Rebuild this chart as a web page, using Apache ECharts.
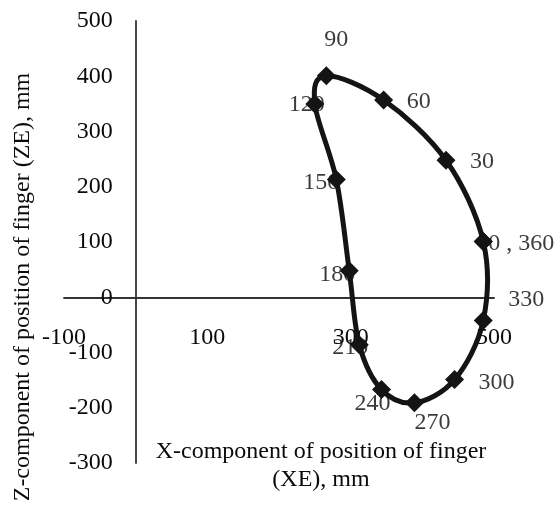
<!DOCTYPE html>
<html>
<head>
<meta charset="utf-8">
<style>
  html, body { margin: 0; padding: 0; background: #fff; }
  #chart { width: 559px; height: 512px; }
</style>
<script src="https://cdn.jsdelivr.net/npm/echarts@6/dist/echarts.min.js"></script>
</head>
<body>
<div id="chart"></div>
<script>
// Crank angle (degrees) at each measured finger position
const angles = [0, 30, 60, 90, 120, 150, 180, 210, 240, 270, 300, 330, 360];
// X-component of finger position (XE), mm
const xe = [485, 433, 346, 266, 250, 280, 298, 312, 343, 389, 445, 485, 485];
// Z-component of finger position (ZE), mm
const ze = [101, 248, 357, 401, 350, 213, 48, -86, -167, -191, -149, -42, 101];
// Text shown next to each point
const pointLabels = ['0 , 360', '30', '60', '90', '120', '150', '180', '210', '240', '270', '300', '330', ''];

// Tick labels shown on the axes
const xTickLabels = [-100, 100, 300, 500];
const yTickLabels = [-300, -200, -100, 0, 100, 200, 300, 400, 500];

// Where each angle label sits relative to its marker (px)
const labelOffsets = [
  [38, 2], [36, 1], [35, 2], [10, -36], [-8, 1], [-15, 3], [-12, 4],
  [-9, 3], [-9, 14], [18, 20], [42, 3], [43, -21], [0, 0]
];

const FONT = 'Liberation Serif';
const INK = '#141414';
const TEXT = '#0a0a0a';
const FS = 24;

// plot area and axis ranges
const GRID = { left: 64, right: 65, top: 21, bottom: 49 };
const X_MIN = -100, X_MAX = 500, Y_MIN = -300, Y_MAX = 500;
const W = 559, H = 512;
const plotW = W - GRID.left - GRID.right;
const plotH = H - GRID.top - GRID.bottom;
// shift the axes so they cross at the origin
const xAxisShift = -plotH * (0 - Y_MIN) / (Y_MAX - Y_MIN);
const yAxisShift = -plotW * (0 - X_MIN) / (X_MAX - X_MIN);

const points = angles.map((a, i) => [xe[i], ze[i]]);
const labelPoints = angles.map((a, i) => ({
  value: [xe[i], ze[i]],
  label: { offset: labelOffsets[i] }
}));

// Closed smooth trajectory through all points (cardinal spline as bezier segments)
function renderTrajectory(params, api) {
  if (params.dataIndex !== 0) return null;
  const n = points.length - 1; // last point repeats the first
  const p = [];
  for (let k = 0; k < n; k++) p.push(api.coord(points[k]));
  const at = k => p[(k + n) % n];
  const children = [];
  for (let k = 0; k < n; k++) {
    const p0 = at(k - 1), p1 = at(k), p2 = at(k + 1), p3 = at(k + 2);
    children.push({
      type: 'bezierCurve',
      shape: {
        x1: p1[0], y1: p1[1],
        cpx1: p1[0] + (p2[0] - p0[0]) / 6,
        cpy1: p1[1] + (p2[1] - p0[1]) / 6,
        cpx2: p2[0] - (p3[0] - p1[0]) / 6,
        cpy2: p2[1] - (p3[1] - p1[1]) / 6,
        x2: p2[0], y2: p2[1]
      },
      style: { stroke: INK, lineWidth: 5, fill: null, lineCap: 'round' }
    });
  }
  return { type: 'group', children: children };
}

const chart = echarts.init(document.getElementById('chart'), null, { renderer: 'canvas' });

const axisCommon = {
  type: 'value',
  interval: 100,
  splitLine: { show: false },
  axisTick: { show: false },
  axisLine: { onZero: false, lineStyle: { color: '#333333', width: 1.8 } }
};

chart.setOption({
  animation: false,
  backgroundColor: '#ffffff',
  grid: Object.assign({ containLabel: false }, GRID),
  xAxis: Object.assign({}, axisCommon, {
    min: X_MIN,
    max: X_MAX,
    position: 'bottom',
    offset: xAxisShift,
    axisLabel: {
      margin: 28,
      color: TEXT,
      fontFamily: FONT,
      fontSize: FS,
      formatter: v => (xTickLabels.indexOf(v) >= 0 ? String(v) : '')
    }
  }),
  yAxis: Object.assign({}, axisCommon, {
    min: Y_MIN,
    max: Y_MAX,
    position: 'left',
    offset: yAxisShift,
    axisLabel: {
      margin: 23,
      color: TEXT,
      fontFamily: FONT,
      fontSize: FS,
      padding: [3, 0, 0, 0],
      formatter: v => (yTickLabels.indexOf(v) >= 0 ? String(v) : '')
    }
  }),
  series: [
    {
      // angle labels, drawn beneath the trajectory
      type: 'scatter',
      z: 1,
      symbolSize: 0,
      silent: true,
      data: labelPoints,
      label: {
        show: true,
        position: 'inside',
        color: TEXT,
        fontFamily: FONT,
        fontSize: FS,
        formatter: p => pointLabels[p.dataIndex]
      }
    },
    {
      type: 'custom',
      z: 3,
      silent: true,
      data: points,
      renderItem: renderTrajectory
    },
    {
      type: 'scatter',
      z: 4,
      data: points,
      symbol: 'diamond',
      symbolSize: 19,
      itemStyle: { color: INK, opacity: 1 }
    }
  ],
  graphic: [
    {
      type: 'text',
      x: 321,
      y: 438,
      style: {
        text: 'X-component of position of finger\n(XE), mm',
        align: 'center',
        fill: TEXT,
        font: FS + 'px "' + FONT + '"',
        lineHeight: 28
      }
    },
    {
      type: 'text',
      x: 23,
      y: 287,
      rotation: Math.PI / 2,
      style: {
        text: 'Z-component of position of finger (ZE), mm',
        align: 'center',
        verticalAlign: 'middle',
        fill: TEXT,
        font: FS + 'px "' + FONT + '"'
      }
    }
  ]
});
</script>
</body>
</html>
